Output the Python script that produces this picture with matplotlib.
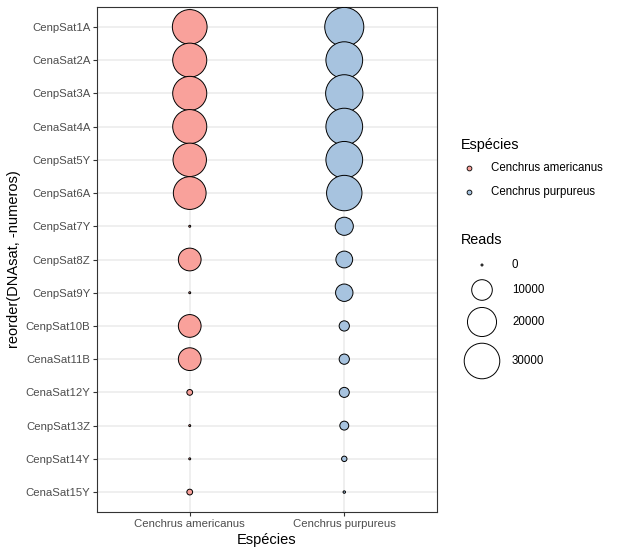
import numpy as np
import matplotlib
matplotlib.use("Agg")
import matplotlib.pyplot as plt

plt.rcParams['font.family'] = ['Liberation Sans', 'DejaVu Sans']

# data (reads per satellite DNA and species)
dnasat = ['CenpSat1A', 'CenaSat2A', 'CenpSat3A', 'CenaSat4A', 'CenpSat5Y',
          'CenpSat6A', 'CenpSat7Y', 'CenpSat8Z', 'CenpSat9Y', 'CenpSat10B',
          'CenaSat11B', 'CenaSat12Y', 'CenpSat13Z', 'CenpSat14Y', 'CenaSat15Y']
especies = ['Cenchrus americanus', 'Cenchrus purpureus']
reads_americanus = [28600, 27500, 27500, 27500, 26500, 25400, 0, 12200, 0,
                    12200, 12200, 700, 0, 0, 700]
reads_purpureus = [36200, 32000, 33000, 32000, 32000, 29700, 7700, 6600, 7100,
                   2400, 2400, 2300, 1800, 600, 50]
cores = ['#F9A19B', '#A7C3DF']
legend_reads = [0, 10000, 20000, 30000]


def size_scale(v):
    # area proportional to the number of reads
    return 2 + 218.0 * np.asarray(v, dtype=float) / 10000


fig = plt.figure(figsize=(6.19, 5.55), dpi=100)
ax = fig.add_axes([97 / 619, 1 - 512 / 555, 340 / 619, 505 / 555])

ypos = np.arange(len(dnasat), 0, -1)
for i, (vals, cor) in enumerate(zip([reads_americanus, reads_purpureus], cores)):
    ax.scatter(np.full(len(vals), i + 1), ypos, s=size_scale(vals),
               facecolor=cor, edgecolor='black', linewidth=0.7, zorder=3)

ax.set_xlim(0.4, 2.6)
ax.set_ylim(0.4, len(dnasat) + 0.6)
ax.set_xticks([1, 2])
ax.set_xticklabels(especies)
ax.set_yticks(ypos)
ax.set_yticklabels(dnasat)
ax.grid(True, color='#EBEBEB', linewidth=1.1, zorder=0)
ax.set_axisbelow(True)
for sp in ax.spines.values():
    sp.set_color('#333333')
    sp.set_linewidth(0.8)
ax.tick_params(colors='#333333', labelcolor='#4D4D4D', labelsize=8.2,
               length=2.7, width=0.8, pad=2)
ax.set_xlabel('Espécies', fontsize=10.5, labelpad=3.5)
ax.set_ylabel('reorder(DNAsat, -numeros)', fontsize=10.5, labelpad=3)

# legends drawn by hand in pixel coordinates
lax = fig.add_axes([0, 0, 1, 1])
lax.set_xlim(0, 619)
lax.set_ylim(555, 0)
lax.axis('off')

lax.text(461, 145, 'Espécies', fontsize=10.4, va='center', ha='left')
for nome, cor, y in zip(especies, cores, [168, 192]):
    lax.scatter([469], [y], s=12, facecolor=cor, edgecolor='black', linewidth=0.6)
    lax.text(491, y, nome, fontsize=8.3, va='center', ha='left')

lax.text(461, 240, 'Reads', fontsize=10.4, va='center', ha='left')
for v, y in zip(legend_reads, [265, 290, 322, 361]):
    lax.scatter([482], [y], s=size_scale([v]), facecolor='none',
                edgecolor='black', linewidth=0.7)
    lax.text(512, y, str(v), fontsize=8.3, va='center', ha='left')

fig.savefig('out.png', dpi=100)
